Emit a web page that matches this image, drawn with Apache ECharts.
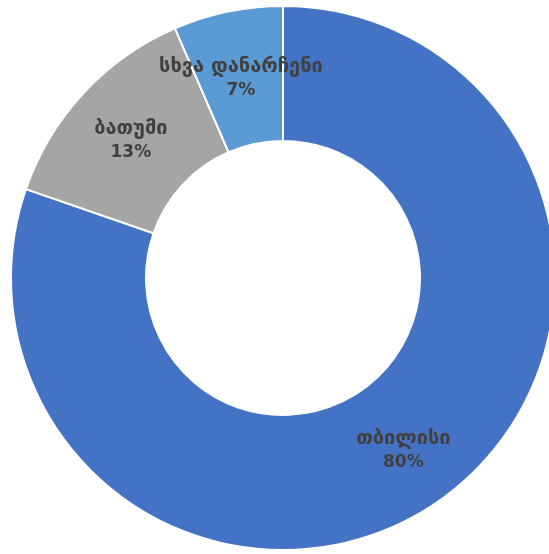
<!DOCTYPE html>
<html>
<head>
<meta charset="utf-8">
<script src="https://cdn.jsdelivr.net/npm/echarts@6/dist/echarts.min.js"></script>
<style>
html,body{margin:0;padding:0;background:#fff;}
#c{width:549px;height:554px;}
</style>
</head>
<body>
<div id="c"></div>
<script>
const categories = ['თბილისი', 'ბათუმი', 'სხვა დანარჩენი'];
const values = [80.3, 13.2, 6.5];
const colors = ['#4472C4', '#A5A5A5', '#5B9BD5'];

const chart = echarts.init(document.getElementById('c'), null, {renderer: 'canvas'});
chart.setOption({
  animation: false,
  backgroundColor: '#ffffff',
  series: [{
    type: 'pie',
    center: [283, 278],
    radius: [137, 272],
    startAngle: 90,
    clockwise: true,
    percentPrecision: 0,
    data: categories.map((n, i) => ({name: n, value: values[i], itemStyle: {color: colors[i]}})),
    itemStyle: {borderColor: '#ffffff', borderWidth: 2},
    label: {
      show: true,
      position: 'inside',
      formatter: '{n|{b}}\n{p|{d}%}',
      color: '#404040',
      fontFamily: 'DejaVu Sans',
      fontWeight: 'bold',
      align: 'center',
      padding: [8, 0, 0, 0],
      rich: {
        n: {fontFamily: 'DejaVu Sans', fontWeight: 'bold', fontSize: 20, lineHeight: 24, color: '#404040'},
        p: {fontFamily: 'DejaVu Sans', fontWeight: 'bold', fontSize: 17, lineHeight: 24, color: '#404040'}
      }
    },
    labelLine: {show: false},
    emphasis: {disabled: true}
  }]
});
</script>
</body>
</html>
